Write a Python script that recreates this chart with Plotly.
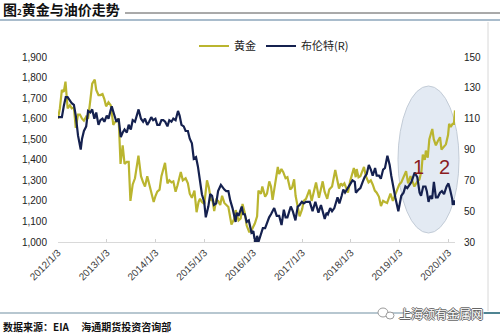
import plotly.graph_objects as go

gold_dates = [
 "2012-01-03","2012-01-17","2012-02-01","2012-02-15","2012-02-28","2012-03-15","2012-04-01","2012-04-15",
 "2012-05-01","2012-05-15","2012-06-01","2012-06-15","2012-07-01","2012-07-15","2012-08-01","2012-08-15",
 "2012-09-01","2012-09-15","2012-10-04","2012-10-15","2012-11-01","2012-11-15","2012-12-01","2012-12-15",
 "2012-12-28","2013-01-15","2013-02-01","2013-02-20","2013-03-01","2013-03-15","2013-04-01","2013-04-15",
 "2013-05-01","2013-05-15","2013-06-01","2013-06-15","2013-06-28","2013-07-15","2013-08-01","2013-08-27",
 "2013-09-15","2013-10-01","2013-10-15","2013-11-01","2013-11-15","2013-12-01","2013-12-19","2014-01-02",
 "2014-01-15","2014-02-01","2014-02-15","2014-03-14","2014-04-01","2014-04-15","2014-05-01","2014-05-15",
 "2014-06-01","2014-06-15","2014-07-10","2014-07-25","2014-08-15","2014-09-01","2014-09-15","2014-10-01",
 "2014-10-20","2014-11-05","2014-11-20","2014-12-01","2014-12-15","2015-01-02","2015-01-22","2015-02-05",
 "2015-02-20","2015-03-05","2015-03-17","2015-04-01","2015-04-15","2015-05-01","2015-05-15","2015-06-01",
 "2015-06-15","2015-07-01","2015-07-24","2015-08-15","2015-08-25","2015-09-15","2015-10-01","2015-10-15",
 "2015-11-01","2015-11-15","2015-12-03","2015-12-17","2016-01-04","2016-01-15","2016-02-01","2016-02-11",
 "2016-03-01","2016-03-11","2016-04-01","2016-04-15","2016-05-02","2016-05-15","2016-05-27","2016-06-15",
 "2016-07-05","2016-07-15","2016-08-01","2016-08-15","2016-09-01","2016-09-15","2016-10-06","2016-10-20",
 "2016-11-04","2016-11-15","2016-12-01","2016-12-15","2017-01-03","2017-01-15","2017-02-01","2017-02-27",
 "2017-03-15","2017-04-01","2017-04-17","2017-05-09","2017-05-25","2017-06-06","2017-06-20","2017-07-10",
 "2017-07-25","2017-08-15","2017-09-08","2017-09-20","2017-10-06","2017-10-20","2017-11-01","2017-11-15",
 "2017-12-12","2017-12-28","2018-01-15","2018-01-25","2018-02-08","2018-02-15","2018-03-01","2018-03-15",
 "2018-04-11","2018-04-25","2018-05-15","2018-06-01","2018-06-15","2018-07-01","2018-07-15","2018-08-01",
 "2018-08-16","2018-09-01","2018-09-15","2018-10-01","2018-10-26","2018-11-13","2018-12-01","2018-12-31",
 "2019-01-15","2019-02-01","2019-02-20","2019-03-07","2019-03-25","2019-04-23","2019-05-15","2019-05-31",
 "2019-06-15","2019-06-25","2019-07-10","2019-07-18","2019-08-01","2019-08-13","2019-09-04","2019-09-15",
 "2019-10-01","2019-10-15","2019-11-01","2019-11-12","2019-12-01","2019-12-15","2019-12-31","2020-01-08",
 "2020-01-20","2020-02-03","2020-02-13","2020-02-21"]
gold_values = [
 1600,1650,1740,1730,1780,1650,1665,1650,
 1655,1555,1620,1620,1600,1590,1610,1600,
 1690,1770,1790,1740,1715,1715,1720,1695,
 1660,1680,1665,1570,1580,1590,1600,1380,
 1470,1380,1390,1390,1200,1280,1310,1420,
 1320,1290,1270,1320,1285,1240,1195,1225,
 1245,1255,1320,1385,1285,1300,1290,1295,
 1245,1275,1340,1300,1310,1285,1235,1215,
 1250,1145,1195,1210,1195,1185,1300,1265,
 1205,1200,1150,1205,1200,1180,1225,1190,
 1180,1170,1085,1115,1155,1105,1115,1185,
 1140,1080,1050,1050,1075,1090,1125,1250,
 1235,1270,1220,1235,1295,1270,1205,1290,
 1365,1330,1355,1340,1310,1315,1255,1265,
 1305,1225,1170,1125,1160,1200,1210,1255,
 1200,1245,1290,1215,1260,1295,1245,1210,
 1255,1270,1350,1310,1260,1285,1275,1285,
 1240,1295,1340,1360,1315,1355,1315,1320,
 1365,1320,1290,1300,1280,1250,1240,1220,
 1175,1200,1195,1190,1235,1200,1230,1280,
 1290,1320,1345,1285,1320,1270,1295,1305,
 1345,1425,1400,1445,1410,1500,1550,1500,
 1470,1490,1510,1450,1465,1475,1520,1575,
 1560,1575,1575,1640]

brent_dates = [
 "2012-01-03","2012-01-17","2012-02-01","2012-02-15","2012-03-01","2012-03-15","2012-04-01","2012-04-15",
 "2012-05-01","2012-05-15","2012-06-01","2012-06-21","2012-07-01","2012-07-15","2012-08-01","2012-08-15",
 "2012-09-01","2012-09-15","2012-10-01","2012-10-15","2012-11-01","2012-11-15","2012-12-01","2012-12-15",
 "2013-01-02","2013-01-15","2013-02-01","2013-02-08","2013-02-25","2013-03-15","2013-04-01","2013-04-17",
 "2013-05-01","2013-05-15","2013-06-01","2013-06-15","2013-07-01","2013-07-15","2013-08-01","2013-08-28",
 "2013-09-15","2013-10-01","2013-10-15","2013-11-01","2013-11-15","2013-12-01","2013-12-15","2014-01-01",
 "2014-01-15","2014-02-01","2014-02-15","2014-03-01","2014-03-15","2014-04-01","2014-04-15","2014-05-01",
 "2014-05-15","2014-06-01","2014-06-19","2014-07-01","2014-07-15","2014-08-01","2014-08-15","2014-09-01",
 "2014-09-15","2014-10-01","2014-10-15","2014-11-01","2014-11-15","2014-12-01","2014-12-15","2015-01-01",
 "2015-01-13","2015-02-01","2015-02-15","2015-03-01","2015-03-15","2015-04-01","2015-04-15","2015-05-06",
 "2015-05-20","2015-06-01","2015-06-15","2015-07-01","2015-07-15","2015-08-01","2015-08-24","2015-09-01",
 "2015-09-15","2015-10-09","2015-10-20","2015-11-01","2015-11-15","2015-12-01","2015-12-21","2016-01-04",
 "2016-01-20","2016-02-01","2016-02-11","2016-03-01","2016-03-15","2016-04-01","2016-04-15","2016-05-01",
 "2016-05-15","2016-06-08","2016-06-27","2016-07-15","2016-08-02","2016-08-19","2016-09-01","2016-09-15",
 "2016-10-10","2016-10-25","2016-11-14","2016-12-01","2016-12-15","2017-01-01","2017-01-15","2017-02-01",
 "2017-02-15","2017-03-01","2017-03-22","2017-04-12","2017-05-05","2017-05-24","2017-06-21","2017-07-05",
 "2017-07-15","2017-08-01","2017-08-15","2017-09-01","2017-09-25","2017-10-09","2017-10-26","2017-11-07",
 "2017-11-20","2017-12-12","2017-12-28","2018-01-15","2018-02-01","2018-02-09","2018-03-01","2018-03-15",
 "2018-04-01","2018-04-15","2018-05-01","2018-05-17","2018-06-01","2018-06-15","2018-07-03","2018-07-15",
 "2018-08-01","2018-08-15","2018-09-01","2018-09-15","2018-10-03","2018-10-20","2018-11-01","2018-11-15",
 "2018-12-01","2018-12-24","2019-01-01","2019-01-15","2019-02-01","2019-02-15","2019-03-01","2019-03-15",
 "2019-04-01","2019-04-25","2019-05-15","2019-06-01","2019-06-12","2019-06-28","2019-07-15","2019-07-25",
 "2019-08-07","2019-08-20","2019-09-03","2019-09-16","2019-10-01","2019-10-15","2019-11-01","2019-11-15",
 "2019-12-01","2019-12-20","2020-01-03","2020-01-15","2020-01-31","2020-02-04","2020-02-14","2020-02-21"]
brent_values = [
 111,111,111,118,124,124,122,120,
 119,112,99,90,97,102,105,115,
 114,116,110,114,106,109,110,108,
 112,110,116,118,113,108,110,98,
 101,103,101,106,103,109,108,116,
 110,108,110,106,108,111,109,110,
 106,106,109,109,108,105,109,108,
 110,109,115,112,106,105,102,102,
 97,94,84,85,79,70,61,56,
 46,53,61,60,54,55,63,67,
 65,64,63,63,57,52,43,49,
 47,53,48,48,43,44,36,37,
 28,34,30,36,39,39,43,46,
 48,52,47,47,41,51,46,46,
 53,50,44,53,54,56,55,56,
 56,56,50,56,49,54,45,49,
 48,52,50,52,59,55,60,64,
 62,65,67,70,69,62,64,65,
 69,72,74,80,77,73,78,73,
 73,71,77,78,86,80,73,66,
 59,50,54,60,62,66,65,67,
 69,75,72,62,60,66,66,63,
 56,60,58,69,59,59,62,63,
 61,66,68,64,58,54,57,54]

tick_dates = ["2012-01-03","2013-01-03","2014-01-03","2015-01-03","2016-01-03",
              "2017-01-03","2018-01-03","2019-01-03","2020-01-03"]
tick_labels = ["2012/1/3","2013/1/3","2014/1/3","2015/1/3","2016/1/3",
               "2017/1/3","2018/1/3","2019/1/3","2020/1/3"]
left_ticks = [1000,1100,1200,1300,1400,1500,1600,1700,1800,1900]
right_ticks = [30,50,70,90,110,130,150]

W, H = 500, 334
L, R, T, B = 58, 45, 57, 92
pw, ph = W - L - R, H - T - B
def px(x): return (x - L) / pw
def py(y): return (H - B - y) / ph

GOLD = "#bab52f"
NAVY = "#15214f"
FONT = "Liberation Sans"
CJK = "Noto Sans CJK SC"

fig = go.Figure()
fig.add_trace(go.Scatter(x=gold_dates, y=gold_values, name="黄金", mode="lines",
                         line=dict(color=GOLD, width=2.2)))
fig.add_trace(go.Scatter(x=brent_dates, y=brent_values, name="布伦特(R)", mode="lines",
                         line=dict(color=NAVY, width=2.2), yaxis="y2"))

shapes = [
    dict(type="circle", xref="paper", yref="paper", layer="below",
         x0=px(398), x1=px(459), y0=py(233), y1=py(86),
         fillcolor="rgba(226,233,242,0.95)", line=dict(color="#c3ccd7", width=1)),
    dict(type="line", xref="paper", yref="paper", x0=px(125), x1=px(500), y0=py(13), y1=py(13),
         line=dict(color="#555555", width=1)),
    dict(type="line", xref="paper", yref="paper", x0=px(0), x1=px(500), y0=py(20), y1=py(20),
         line=dict(color="#a9bccc", width=2)),
    dict(type="line", xref="paper", yref="paper", x0=px(488), x1=px(488), y0=py(22), y1=py(311),
         line=dict(color="#d8d8d8", width=1)),
    dict(type="line", xref="paper", yref="paper", x0=px(0), x1=px(500), y0=py(313), y1=py(313),
         line=dict(color="#9fb4c0", width=1.5)),
    dict(type="line", xref="paper", yref="paper", x0=px(484), x1=px(500), y0=py(313), y1=py(313),
         line=dict(color="#2c6e7e", width=1.5)),
    dict(type="circle", xref="paper", yref="paper", x0=px(378), x1=px(388), y0=py(317), y1=py(308),
         fillcolor="white", line=dict(color="#9a9a9a", width=1)),
    dict(type="circle", xref="paper", yref="paper", x0=px(386), x1=px(394), y0=py(319), y1=py(312),
         fillcolor="white", line=dict(color="#9a9a9a", width=1)),
]

annotations = [
    dict(text="图<span style='font-size:8px'>2</span>黄金与油价走势", xref="paper", yref="paper",
         x=px(1), y=py(9), xanchor="left", yanchor="middle", showarrow=False,
         font=dict(family=CJK, size=14, color="#111111", weight="bold")),
    dict(text="1", xref="paper", yref="paper", x=px(426), y=py(167), showarrow=False,
         font=dict(family=FONT, size=20, color="#8b1c1f")),
    dict(text="2", xref="paper", yref="paper", x=px(452), y=py(167), showarrow=False,
         font=dict(family=FONT, size=20, color="#8b1c1f")),
    dict(text="数据来源：EIA　 海通期货投资咨询部", xref="paper", yref="paper",
         x=px(1), y=py(326), xanchor="left", yanchor="middle", showarrow=False,
         font=dict(family=CJK, size=10, color="#111111", weight="bold")),
    dict(text="上海领有金属网", xref="paper", yref="paper",
         x=px(441), y=py(313), xanchor="center", yanchor="middle", showarrow=False,
         font=dict(family=CJK, size=12, color="white",
                   shadow="1px 0 0 #666, -1px 0 0 #666, 0 1px 0 #666, 0 -1px 0 #666")),
]

fig.update_layout(
    width=W, height=H,
    margin=dict(l=L, r=R, t=T, b=B, pad=0),
    paper_bgcolor="white", plot_bgcolor="rgba(0,0,0,0)",
    showlegend=True,
    legend=dict(orientation="h", x=px(194), xanchor="left", y=py(46), yanchor="middle",
                font=dict(family=CJK, size=11, color="#222222"),
                bgcolor="rgba(0,0,0,0)", itemwidth=30, tracegroupgap=0),
    xaxis=dict(type="date", range=["2012-01-03", "2020-02-21"],
               tickvals=tick_dates, ticktext=tick_labels, tickangle=-45,
               tickfont=dict(family=FONT, size=10, color="#404040"),
               showline=True, linecolor="#d9d9d9", linewidth=1,
               ticks="inside", ticklen=3, tickcolor="#d0d0d0",
               showgrid=False, zeroline=False),
    yaxis=dict(range=[1000, 1900], tickvals=left_ticks, tickformat=",d",
               tickfont=dict(family=FONT, size=10, color="#222222"),
               showgrid=False, zeroline=False, showline=False, ticklabelstandoff=10),
    yaxis2=dict(range=[30, 150], tickvals=right_ticks, overlaying="y", side="right",
                tickfont=dict(family=FONT, size=10, color="#222222"),
                showgrid=False, zeroline=False, showline=False, ticklabelstandoff=8),
    shapes=shapes, annotations=annotations,
)

fig.write_html("out.html")
